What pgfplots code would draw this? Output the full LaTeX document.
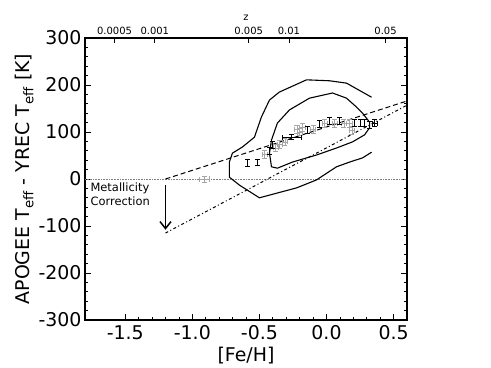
\documentclass[border=0pt]{standalone}
\usepackage{fontspec}
\setmainfont{DejaVu Sans}
\usepackage{pgfplots}
\pgfplotsset{compat=1.18}
\usetikzlibrary{arrows.meta}

% gray points: x, y, x error, y error
\pgfplotstableread{
x ey y ex
-0.91 6 0 0.04
-0.46 8 53 0.02
-0.38 8 66 0.02
-0.35 8 74 0.02
-0.31 8 79 0.02
-0.22 9 106 0.02
-0.20 8 100 0.02
-0.18 9 110 0.02
-0.10 8 106 0.02
-0.015 8 119 0.02
0.06 8 119 0.02
0.13 8 119 0.02
0.17 8 119 0.02
0.19 8 104 0.02
}\graypts
% black points, y error only
\pgfplotstableread{
x y ey
-0.59 34 7
-0.515 35 7
-0.425 60 8
-0.40 72 7
-0.14 104 7
-0.05 117 7
0.02 123 7
0.10 123 7
0.21 119 7
0.25 119 7
0.28 119 7
0.32 115 7
}\blackpts
% black points with x error
\pgfplotstableread{
x y ex ey
-0.26 89 0.07 5
0.36 119 0.02 7
}\blackxpts

\tikzset{numfont/.style={font=\fontsize{19}{22}\selectfont}}

\begin{document}
\begin{tikzpicture}
\begin{axis}[width=322bp,height=282bp,scale only axis,
  xmin=-1.8,xmax=0.6,ymin=-300,ymax=300,
  xtick={-1.5,-1,-0.5,0,0.5},xticklabels={-1.5,-1.0,-0.5,0.0,0.5},
  ytick={-300,-200,-100,0,100,200,300},yticklabels={-300,-200,-100,0,100,200,300},
  minor x tick num=4,minor y tick num=4,
  xtick pos=left,ytick pos=both,tick align=inside,
  major tick length=6bp,minor tick length=3bp,
  every tick/.style={black,line width=0.8pt},
  axis line style={line width=1.5pt},
  tick label style={numfont},label style={numfont},
  xticklabel style={yshift=-2bp},
  xlabel={[Fe/H]},
  ylabel={APOGEE T\textsubscript{eff} - YREC T\textsubscript{eff} [K]},
  ylabel style={yshift=-2bp},
  clip=true]
% zero line
\addplot[gray,densely dotted,line width=0.6pt] coordinates {(-1.8,0)(0.6,0)};
% outer contour
\addplot[black,line width=1.1pt] coordinates {
(0.336,174)(0.149,204)(0.022,209)(-0.149,211)(-0.351,185)(-0.425,168)
(-0.485,132)(-0.537,89)(-0.627,68)(-0.701,55)(-0.724,36)(-0.724,4)
(-0.649,-13)(-0.5,-40)(-0.224,-19)(-0.075,-2)(0.075,26)(0.172,36)
(0.269,45)(0.336,57)};
% inner contour
\addplot[black,line width=1.1pt] coordinates {
(0.321,121)(0.269,140)(0.224,153)(0.149,172)(0.045,183)(-0.127,172)
(-0.276,147)(-0.366,119)(-0.410,83)(-0.425,55)(-0.410,26)(-0.366,23)
(-0.254,36)(-0.075,51)(0.075,66)(0.194,79)(0.284,94)(0.321,109)(0.321,121)};
% fits
\addplot[black,line width=1pt,dash pattern=on 5pt off 3pt] coordinates {(-1.2,0)(0.6,166)};
\addplot[black,line width=1pt,dash pattern=on 3pt off 2.5pt on 1pt off 2.5pt] coordinates {(-1.2,-115)(0.6,157)};
% data with error bars
\addplot[gray!70,only marks,mark=-,mark size=0pt,
  error bars/.cd,x dir=both,x explicit,y dir=both,y explicit,error mark=|,
  error mark options={gray!70,mark size=2.5bp,line width=0.6pt},
  error bar style={line width=0.6pt}]
  table[x=x,y=y,x error=ex,y error=ey] {\graypts};
\addplot[black,only marks,mark=-,mark size=0pt,
  error bars/.cd,y dir=both,y explicit,error mark=|,
  error mark options={black,mark size=2.5bp,line width=0.9pt},
  error bar style={line width=0.9pt}]
  table[x=x,y=y,y error=ey] {\blackpts};
\addplot[black,only marks,mark=-,mark size=0pt,
  error bars/.cd,x dir=both,x explicit,y dir=both,y explicit,error mark=|,
  error mark options={black,mark size=2.5bp,line width=0.8pt},
  error bar style={line width=0.8pt}]
  table[x=x,y=y,x error=ex,y error=ey] {\blackxpts};
% metallicity correction arrow
\addplot[black,line width=1.5pt,-{Straight Barb[length=7pt,width=11pt]}] coordinates {(-1.2,-13)(-1.2,-108)};
\node[anchor=north west,align=left,inner sep=0pt,font=\fontsize{11.5}{14}\selectfont]
  at (axis cs:-1.76,-8) {Metallicity\\Correction};
\end{axis}
\begin{axis}[width=322bp,height=282bp,scale only axis,
  xmin=-1.8,xmax=0.6,ymin=-300,ymax=300,
  axis x line*=top,axis y line=none,
  xtick={-1.58,-1.28,-0.58,-0.28,0.44},
  xticklabels={0.0005,0.001,0.005,0.01,0.05},
  tick align=inside,major tick length=5bp,
  every tick/.style={black,line width=0.8pt},
  axis line style={line width=1.5pt},
  tick label style={font=\fontsize{10}{12}\selectfont},
  label style={font=\fontsize{10}{12}\selectfont},
  xlabel={z}]
\end{axis}
\path[use as bounding box] (-85bp,-48bp) rectangle (406bp,320bp);
\end{tikzpicture}
\end{document}
